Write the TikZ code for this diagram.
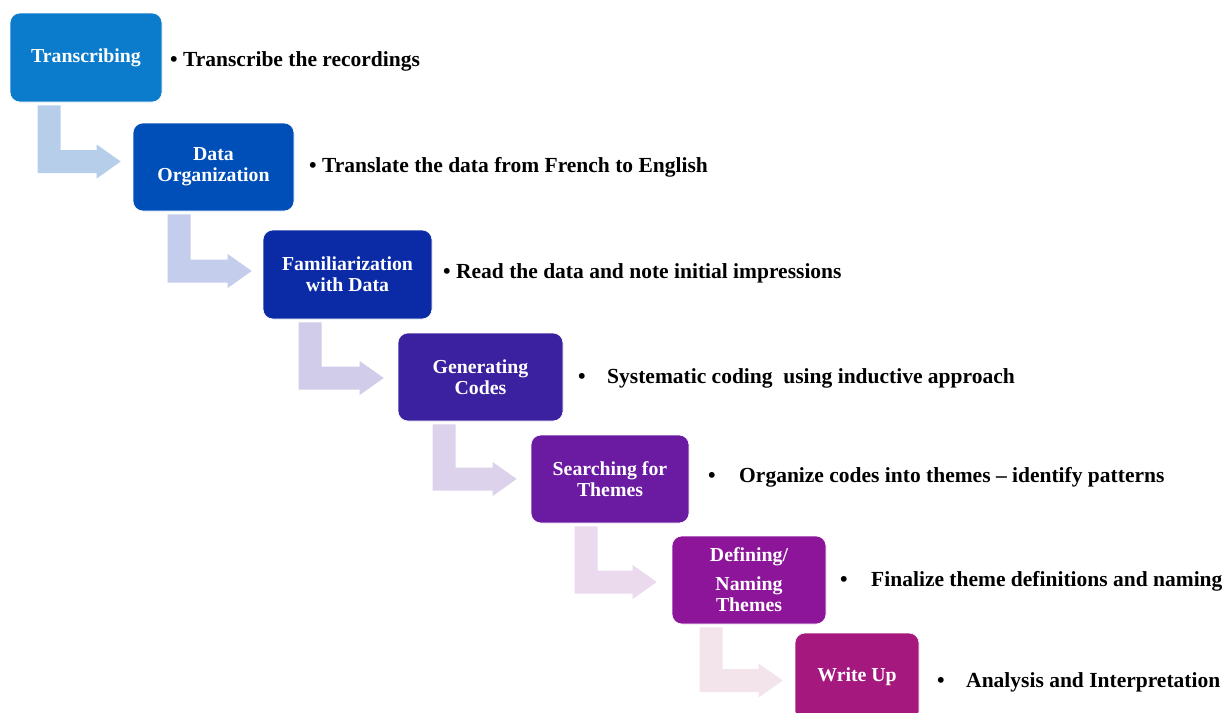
\documentclass[tikz,border=0pt]{standalone}
\usepackage{fontspec}
\setmainfont{Liberation Serif}
\usetikzlibrary{calc}
\definecolor{c1}{HTML}{0B7BCB}
\definecolor{c2}{HTML}{004FB8}
\definecolor{c3}{HTML}{0B2AA6}
\definecolor{c4}{HTML}{3B20A0}
\definecolor{c5}{HTML}{6B1AA2}
\definecolor{c6}{HTML}{8D1599}
\definecolor{c7}{HTML}{A5197F}
\definecolor{a1}{HTML}{B7CEEA}
\definecolor{a2}{HTML}{C5CDEC}
\definecolor{a3}{HTML}{D0CCEA}
\definecolor{a4}{HTML}{DDD2EC}
\definecolor{a5}{HTML}{EBDAEE}
\definecolor{a6}{HTML}{F3E4EC}
% from, to, x offset of bar, vertical shift (canvas, up positive), tip gap, colour
\newcommand\bentarrow[6]{%
  \fill[#6] let \p1=(#1.south west), \p2=(#2.west) in
    ({\x1+#3},{\y1-3pt}) -- ({\x1+#3+23pt},{\y1-3pt})
    -- ({\x1+#3+23pt},{\y2+#4+11.5pt}) -- ({\x2-#5-24pt},{\y2+#4+11.5pt})
    -- ({\x2-#5-24pt},{\y2+#4+17pt}) -- ({\x2-#5},{\y2+#4})
    -- ({\x2-#5-24pt},{\y2+#4-17pt}) -- ({\x2-#5-24pt},{\y2+#4-11.5pt})
    -- ({\x1+#3},{\y2+#4-11.5pt}) -- cycle;}
\begin{document}
\begin{tikzpicture}[x=1pt,y=-1pt,
  stage/.style={rounded corners=10pt, fill=#1, draw=white, line width=0.6pt,
    text=white, font=\fontsize{19.8}{21}\selectfont\bfseries, align=center, inner sep=0pt},
  desc/.style={anchor=base west, font=\fontsize{21.5}{24}\selectfont\bfseries, inner sep=0pt}]
\useasboundingbox (0,0) rectangle (1231,712);
\clip (0,0) rectangle (1231,712);
\fill[white] (0,0) rectangle (1231,712);

\node[stage=c1, minimum width=152pt, minimum height=89pt] (b1) at (86,57.5) {Transcribing};
\node[stage=c2, minimum width=161pt, minimum height=88pt] (b2) at (213.5,167) {Data\\Organization};
\node[stage=c3, minimum width=169pt, minimum height=89pt] (b3) at (347.5,274.5) {Familiarization\\with Data};
\node[stage=c4, minimum width=165pt, minimum height=88pt] (b4) at (480.5,377) {Generating\\Codes};
\node[stage=c5, minimum width=158pt, minimum height=88pt] (b5) at (610,479) {Searching for\\Themes};
\node[stage=c6, minimum width=154pt, minimum height=88pt] (b6) at (749,580) {Defining/\\[8pt]Naming\\Themes};
\node[stage=c7, minimum width=124pt, minimum height=88pt] (b7) at (857,677) {Write Up};

\bentarrow{b1}{b2}{28pt}{5.5pt}{12pt}{a1}
\bentarrow{b2}{b3}{35pt}{3.5pt}{11pt}{a2}
\bentarrow{b3}{b4}{36pt}{-1pt}{14pt}{a3}
\bentarrow{b4}{b5}{35pt}{0pt}{14pt}{a4}
\bentarrow{b5}{b6}{44pt}{-2pt}{15pt}{a5}
\bentarrow{b6}{b7}{28pt}{-3.5pt}{12pt}{a6}

\node[desc] (d1) at (170,66) {\textbullet\ Transcribe the recordings};
\node[desc] (d2) at (309,172) {\textbullet\ Translate the data from French to English};
\node[desc] (d3) at (443,278) {\textbullet\ Read the data and note initial impressions};
\node[desc] (d4) at (578,383) {\textbullet\hspace{21.5pt}Systematic coding\ \ using inductive approach};
\node[desc] (d5) at (708,482) {\textbullet\hspace{23.5pt}Organize codes into themes – identify patterns};
\node[desc] (d6) at (840,586) {\textbullet\hspace{23.5pt}Finalize theme definitions and naming};
\node[desc] (d7) at (937,687) {\textbullet\hspace{21.5pt}Analysis and Interpretation};
\end{tikzpicture}
\end{document}
